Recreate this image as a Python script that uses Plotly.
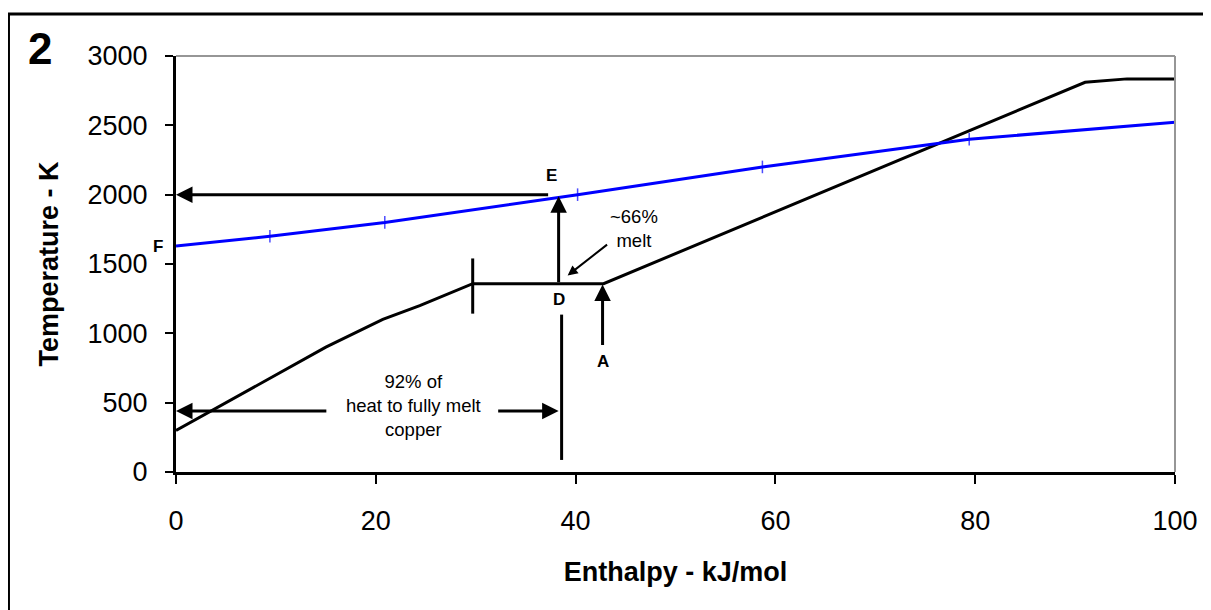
import plotly.graph_objects as go

# ---------------- data ----------------
# heating curve of copper (black)
CU_H = [0, 5.0, 10.0, 15.0, 20.7, 24.4, 29.7, 42.8, 91.0, 95.2, 100.6]
CU_T = [300, 500, 700, 900, 1100, 1200, 1358, 1358, 2810, 2835, 2835]

# blue line
BLUE_H = [0, 9.4, 20.9, 40.2, 58.7, 79.4, 100.6]
BLUE_T = [1630, 1700, 1800, 2000, 2200, 2400, 2525]
BLUE_MARK = [0, 9, 9, 9, 9, 9, 0]

X_TICKS = [0, 20, 40, 60, 80, 100]
Y_TICKS = [0, 500, 1000, 1500, 2000, 2500, 3000]

# construction lines
MELT_START_H = 29.7
MELT_START_T = [1142, 1540]
D_H = 38.6
D_T = [87, 1135]
E_H = 38.3
E_T = 2000
PLATEAU_T = 1358
A_H = 42.7
A_TAIL_T = 905
HEAT92_T = 440
HEAT92_LEFT_TAIL = 15.2
HEAT92_RIGHT_TAIL = 32.1
E_LINE_TAIL = 37.4

FONT = "Liberation Sans, Arial, sans-serif"

fig = go.Figure()

fig.add_trace(go.Scatter(
    x=CU_H, y=CU_T, mode="lines",
    line=dict(color="black", width=3), hoverinfo="skip", showlegend=False))

fig.add_trace(go.Scatter(
    x=BLUE_H, y=BLUE_T, mode="lines+markers",
    line=dict(color="#0000FF", width=3),
    marker=dict(symbol="line-ns", size=BLUE_MARK,
                line=dict(color="#0000FF", width=1.5)),
    hoverinfo="skip", showlegend=False))

# vertical tick at melting start
fig.add_trace(go.Scatter(
    x=[MELT_START_H, MELT_START_H], y=MELT_START_T, mode="lines",
    line=dict(color="black", width=3), hoverinfo="skip", showlegend=False))

# vertical line below D
fig.add_trace(go.Scatter(
    x=[D_H, D_H], y=D_T, mode="lines",
    line=dict(color="black", width=3), hoverinfo="skip", showlegend=False))

ann = []


def arrow(x_head, y_head, x_tail, y_tail, width=3, size=1.1):
    ann.append(dict(
        x=x_head, y=y_head, ax=x_tail, ay=y_tail,
        xref="x", yref="y", axref="x", ayref="y",
        text="", showarrow=True, arrowhead=2, arrowsize=size,
        arrowwidth=width, arrowcolor="black", standoff=0, startstandoff=0))


# E horizontal arrow to axis
arrow(0, E_T, E_LINE_TAIL, E_T)
# vertical arrow D -> E
arrow(E_H, E_T - 12, E_H, PLATEAU_T)
# A arrow
arrow(A_H, PLATEAU_T - 5, A_H, A_TAIL_T)
# 92% arrows
arrow(0, HEAT92_T, HEAT92_LEFT_TAIL, HEAT92_T)
arrow(E_H, HEAT92_T, HEAT92_RIGHT_TAIL, HEAT92_T)
# ~66% melt arrow
arrow(39.2, 1417, 43.3, 1648, width=2, size=1.0)


def label(x, y, text, size=17, bold=True, **kw):
    d = dict(x=x, y=y, xref="x", yref="y", text=("<b>%s</b>" % text) if bold else text,
             showarrow=False, font=dict(family=FONT, size=size, color="black"))
    d.update(kw)
    ann.append(d)


label(37.6, 2140, "E")
label(38.3, 1243, "D")
label(42.7, 795, "A")
label(0, BLUE_T[0], "F", xanchor="right", xshift=-11, yshift=-1)
label(45.8, 1757, "~66%<br>melt", size=18.5, bold=False)
label(23.8, 477, "92% of<br>heat to fully melt<br>copper", size=18.5, bold=False)

# panel number
ann.append(dict(x=-0.1361, y=1.017, xref="paper", yref="paper", text="<b>2</b>",
                xanchor="center", yanchor="middle",
                showarrow=False, font=dict(family=FONT, size=44, color="black")))

shapes = [
    # outer frame
    dict(type="rect", xref="paper", yref="paper", x0=-0.1677, x1=1.030, y0=-0.40, y1=1.101,
         line=dict(color="black", width=3), fillcolor="rgba(0,0,0,0)", layer="below"),
    # plot-area top & right border (grey)
    dict(type="line", xref="x domain", yref="y domain", x0=0, x1=1, y0=1, y1=1,
         line=dict(color="#969696", width=2)),
    dict(type="line", xref="x domain", yref="y domain", x0=1, x1=1, y0=0, y1=1,
         line=dict(color="#969696", width=2)),
]

fig.update_layout(
    width=1203, height=602,
    margin=dict(l=168, r=36, t=48, b=138, pad=0),
    paper_bgcolor="white", plot_bgcolor="white",
    font=dict(family=FONT, color="black"),
    annotations=ann, shapes=shapes, showlegend=False,
    xaxis=dict(
        range=[0, 100], tickvals=X_TICKS, ticktext=[str(v) for v in X_TICKS],
        showgrid=False, zeroline=False, showline=True, linecolor="black", linewidth=3,
        ticks="outside", ticklen=9, tickwidth=2, tickcolor="black",
        tickfont=dict(family=FONT, size=27, color="black"), ticklabelstandoff=14,
        title=dict(text="<b>Enthalpy - kJ/mol</b>", font=dict(family=FONT, size=27, color="black"),
                   standoff=27),
    ),
    yaxis=dict(
        range=[0, 3000], tickvals=Y_TICKS, ticktext=[str(v) for v in Y_TICKS],
        showgrid=False, zeroline=False, showline=True, linecolor="black", linewidth=3,
        ticks="outside", ticklen=8, tickwidth=2, tickcolor="black",
        tickfont=dict(family=FONT, size=27, color="black"), ticklabelstandoff=12,
        title=dict(text="<b>Temperature - K</b>", font=dict(family=FONT, size=27, color="black"),
                   standoff=22),
    ),
)

fig.write_html("out.html")
